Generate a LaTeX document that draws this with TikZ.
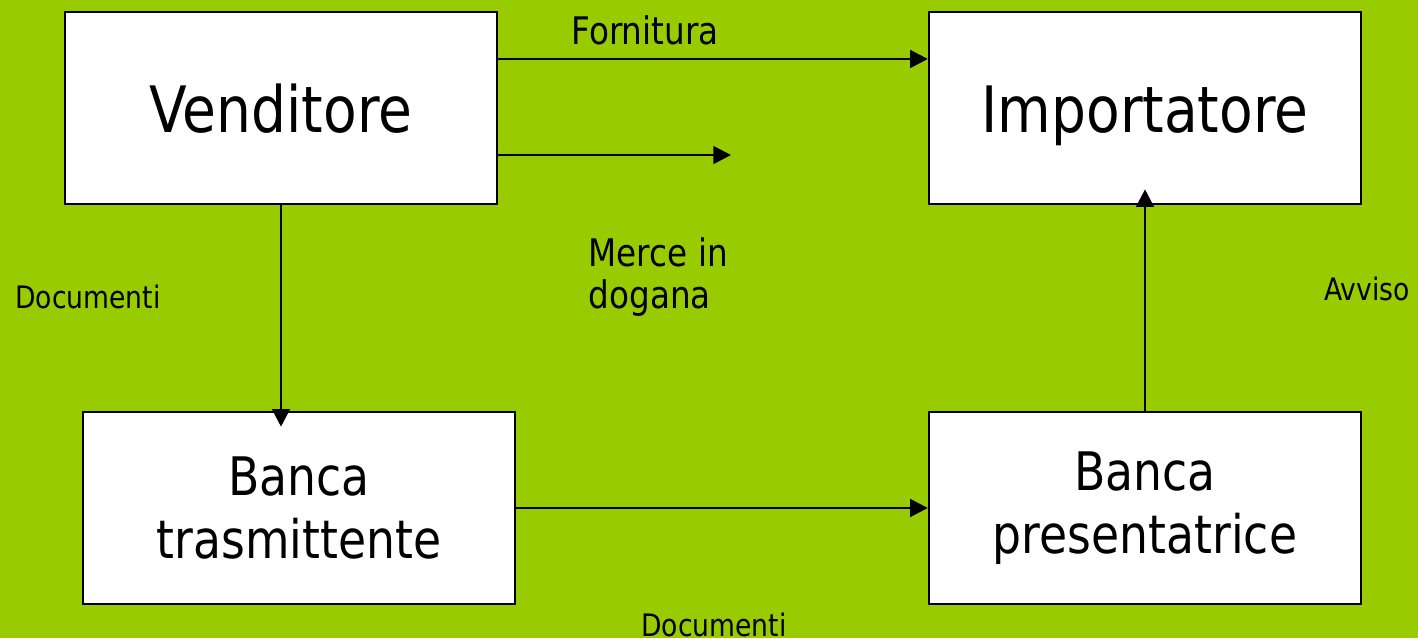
\documentclass[tikz,border=0pt]{standalone}
\usepackage{fontspec}
\setmainfont[FakeStretch=0.86]{DejaVu Sans}
\usepackage{tikz}
\usetikzlibrary{positioning, arrows.meta}

\definecolor{prato}{HTML}{99CC00}

\begin{document}
\begin{tikzpicture}[x=0.01cm, y=-0.01cm,
  box/.style={draw, fill=white, line width=0.6pt, inner sep=0pt,
    minimum width=4.32cm, minimum height=1.92cm, align=center},
  party/.style={box, text height=14.2pt, text depth=0pt,
    font=\fontsize{18.2}{18.2}\selectfont},
  bank/.style={box, font=\fontsize{15.1}{18}\selectfont},
  flow/.style={-{Triangle[length=5pt,width=5pt]}, line width=0.75pt},
  small label/.style={inner sep=0pt, font=\fontsize{8.8}{10.5}\selectfont},
  big label/.style={inner sep=0pt, align=left, font=\fontsize{10.8}{12.2}\selectfont}]

% background and page size
\fill[prato] (0,0) rectangle (1418,638);
\useasboundingbox (0,0) rectangle (1418,638);

\node[party] (venditore) at (281,108) {Venditore};
\node[party] (importatore) at (1145,108) {Importatore};
\node[bank] (trasmittente) at (299,508) {Banca\\trasmittente};
\node[bank] (presentatrice) at (1145,508) {Banca\\presentatrice};

\coordinate (dogana) at (731,155);

% flows between the parties
\draw[flow] ([yshift=4.9mm]venditore.east) -- ([yshift=4.9mm]importatore.west);
\draw[flow] (venditore.east |- dogana) -- (dogana);
\draw[flow, shorten >=-4.5pt] (venditore.south) -- (venditore.south |- trasmittente.north);
\draw[flow] (trasmittente.east) -- (presentatrice.west);
\draw[flow, shorten >=-4.5pt] (presentatrice.north) -- (importatore.south);

% labels
\node[big label] (fornitura) at (645,30) {Fornitura};
\node[big label, anchor=west] (merce) at (588,277) {Merce in\\dogana};
\node[small label] (doc1) at (88,297) {Documenti};
\node[small label] (avviso) at (1367,289) {Avviso};
\node[small label] (doc2) at (714,625) {Documenti};

\end{tikzpicture}
\end{document}
